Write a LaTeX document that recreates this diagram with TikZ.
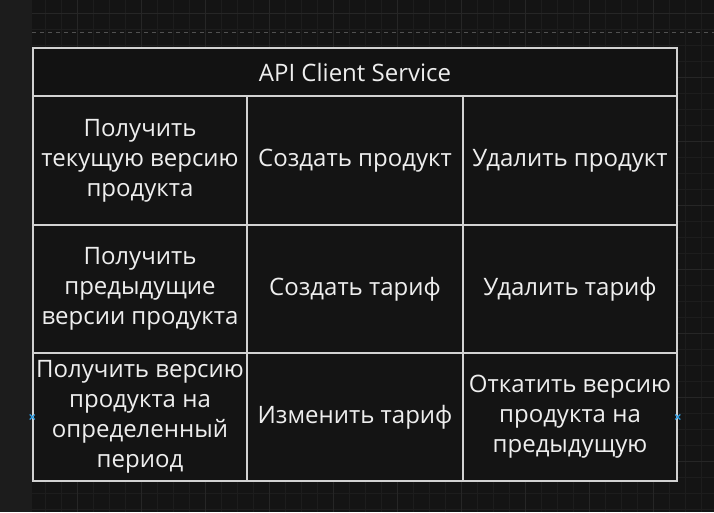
\documentclass[tikz,border=0pt]{standalone}
\usepackage{fontspec}
\setmainfont{Open Sans}
\usetikzlibrary{positioning}

\definecolor{canvas}{HTML}{141414}
\definecolor{strip}{HTML}{1C1C1C}
\definecolor{gridminor}{HTML}{1D1D1D}
\definecolor{gridmajor}{HTML}{262626}
\definecolor{cellline}{HTML}{D2D2D2}
\definecolor{celltext}{HTML}{EEEEEE}
\definecolor{handle}{HTML}{2E9BE0}

\tikzset{
  cell/.style={draw=cellline, line width=1.6pt, fill=canvas, text=celltext,
    align=center, font=\fontsize{24}{30}\selectfont, inner sep=0pt},
  titlecell/.style={cell, fill=black!93},
  handlemark/.style={draw=handle, line width=1.2pt}
}

\begin{document}
\begin{tikzpicture}[x=1pt, y=-1pt]
  \useasboundingbox (0,0) rectangle (714,512);
  % background and grid
  \fill[strip] (0,0) rectangle (714,512);
  \fill[canvas] (32,0) rectangle (714,512);
  \foreach \g in {0,16,...,512}
    \draw[gridminor, line width=0.6pt] (32,\g+13) -- (714,\g+13);
  \foreach \g in {32,48,...,714}
    \draw[gridminor, line width=0.6pt] (\g-3,0) -- (\g-3,512);
  \foreach \g in {13,77,...,512}
    \draw[gridmajor, line width=0.8pt] (32,\g) -- (714,\g);
  \foreach \g in {77,141,...,714}
    \draw[gridmajor, line width=0.8pt] (\g,0) -- (\g,512);
  \fill[strip] (0,0) rectangle (31,512);
  \draw[gridmajor!80!white, line width=1pt, dash pattern=on 4pt off 4pt] (32,32) -- (714,32);

  % title row
  \node[titlecell, minimum width=644pt, minimum height=48pt] (title) at (355,72) {API Client Service};

  % first row
  \node[cell, minimum width=214pt, minimum height=129pt] (getcur) at (140,160.5)
    {Получить\\текущую версию\\продукта};
  \node[cell, minimum width=216pt, minimum height=129pt] (newprod) at (355,160.5) {Создать продукт};
  \node[cell, minimum width=214pt, minimum height=129pt] (delprod) at (570,160.5) {Удалить продукт};

  % second row
  \node[cell, minimum width=214pt, minimum height=128pt] (getprev) at (140,289)
    {Получить\\предыдущие\\версии продукта};
  \node[cell, minimum width=216pt, minimum height=128pt] (newrate) at (355,289) {Создать тариф};
  \node[cell, minimum width=214pt, minimum height=128pt] (delrate) at (570,289) {Удалить тариф};

  % third row
  \node[cell, minimum width=214pt, minimum height=128pt] (getper) at (140,417)
    {Получить версию\\продукта на\\определенный\\период};
  \node[cell, minimum width=216pt, minimum height=128pt] (editrate) at (355,417) {Изменить тариф};
  \node[cell, minimum width=214pt, minimum height=128pt] (rollback) at (570,417)
    {Откатить версию\\продукта на\\предыдущую};

  % selection handles
  \coordinate (lefth) at (getper.west);
  \coordinate (righth) at (rollback.east);
  \draw[handlemark] ([shift={(-2.5,-2.5)}]lefth) -- ([shift={(2.5,2.5)}]lefth)
    ([shift={(-2.5,2.5)}]lefth) -- ([shift={(2.5,-2.5)}]lefth);
  \draw[handlemark] ([shift={(-2.5,-2.5)}]righth) -- ([shift={(2.5,2.5)}]righth)
    ([shift={(-2.5,2.5)}]righth) -- ([shift={(2.5,-2.5)}]righth);
\end{tikzpicture}
\end{document}
